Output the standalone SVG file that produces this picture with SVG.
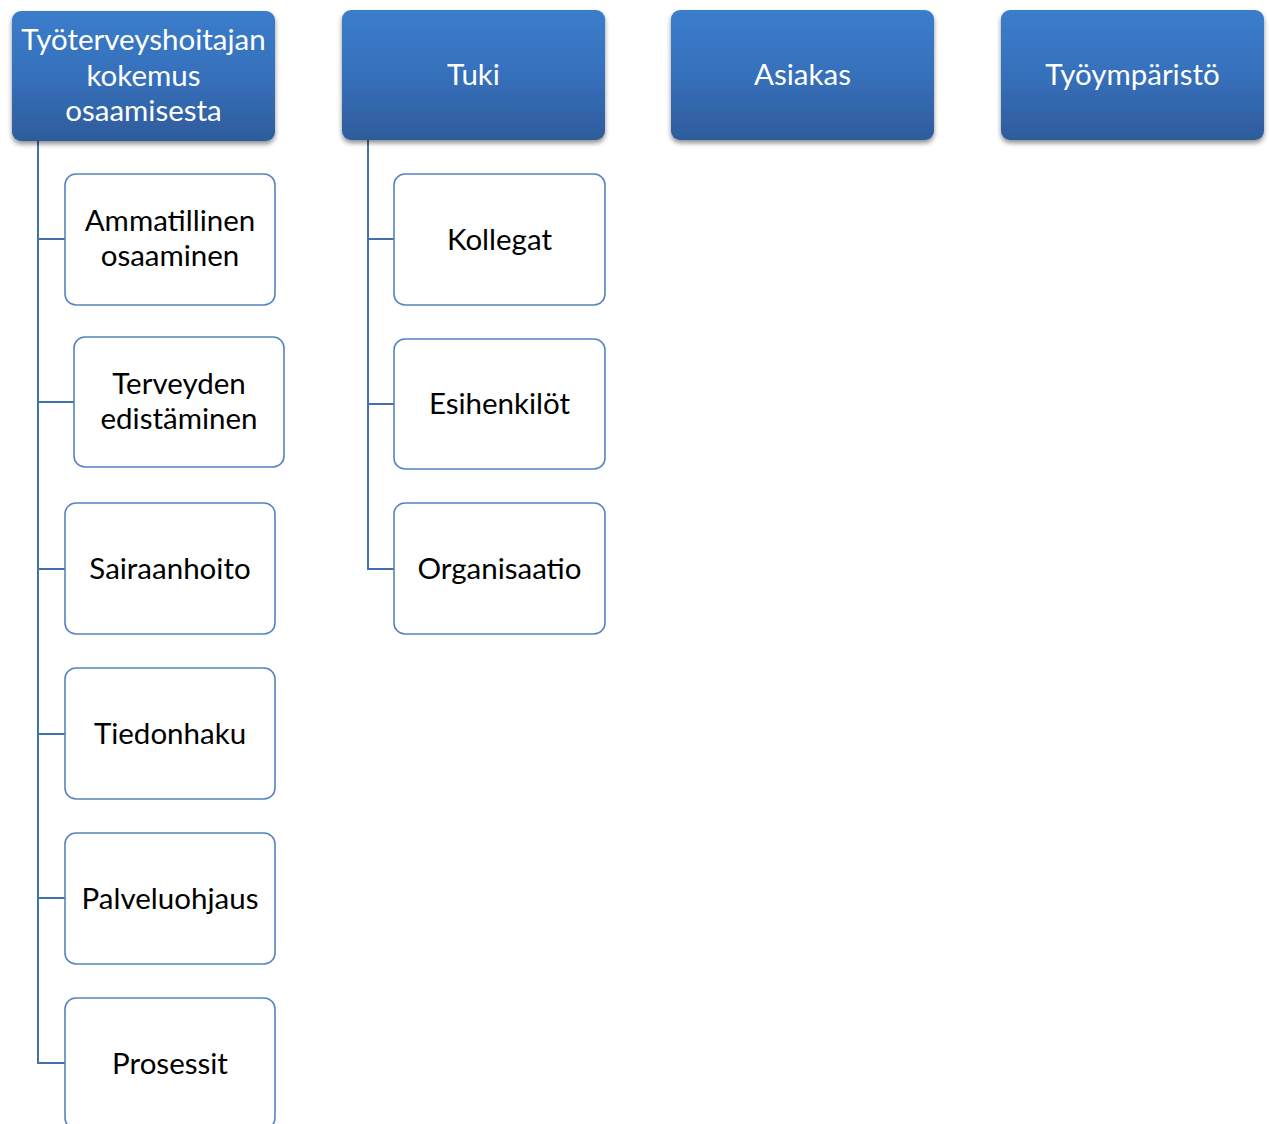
<svg xmlns="http://www.w3.org/2000/svg" width="1269" height="1124" viewBox="0 0 1269 1124">
<defs>
<linearGradient id="hg" x1="0" y1="0" x2="0" y2="1">
<stop offset="0" stop-color="#3b7dcb"/>
<stop offset="0.5" stop-color="#3670bb"/>
<stop offset="1" stop-color="#2e5c9b"/>
</linearGradient>
<filter id="sh" x="-10%" y="-10%" width="120%" height="130%">
<feGaussianBlur in="SourceAlpha" stdDeviation="2.5"/>
<feOffset dx="0" dy="3" result="b"/>
<feComponentTransfer><feFuncA type="linear" slope="0.45"/></feComponentTransfer>
<feMerge><feMergeNode/><feMergeNode in="SourceGraphic"/></feMerge>
</filter>
</defs>
<style>
.head{fill:url(#hg);filter:url(#sh);}
.ht{fill:#ffffff;font-family:Lato,"Open Sans",sans-serif;font-size:29.5px;text-anchor:middle;}
.child{fill:#ffffff;stroke:#5583c1;stroke-width:1.6;}
.ct{fill:#000000;font-family:Lato,"Open Sans",sans-serif;font-size:29.5px;text-anchor:middle;}
.conn{fill:none;stroke:#4370a8;stroke-width:2;}
</style>
<rect width="1269" height="1124" fill="#ffffff"/>
<g id="connectors">
<path class="conn" d="M38,141 V1063 H65"/>
<path class="conn" d="M38,239 H65 M38,402 H74 M38,569 H65 M38,734 H65 M38,898 H65"/>
<path class="conn" d="M368,140 V569 H394"/>
<path class="conn" d="M368,239 H394 M368,404 H394"/>
</g>
<g id="n-tyoterveys">
<rect class="head" x="12" y="11" width="263" height="130" rx="9"/>
<text class="ht" x="143.5" y="50">Työterveyshoitajan</text>
<text class="ht" x="143.5" y="86">kokemus</text>
<text class="ht" x="143.5" y="121">osaamisesta</text>
</g>
<g id="n-tuki">
<rect class="head" x="342" y="10" width="263" height="130" rx="9"/>
<text class="ht" x="473.5" y="85">Tuki</text>
</g>
<g id="n-asiakas">
<rect class="head" x="671" y="10" width="263" height="130" rx="9"/>
<text class="ht" x="802.5" y="85">Asiakas</text>
</g>
<g id="n-tyoymparisto">
<rect class="head" x="1001" y="10" width="263" height="130" rx="9"/>
<text class="ht" x="1132.5" y="85">Työympäristö</text>
</g>
<g id="n-ammatillinen">
<rect class="child" x="65" y="174" width="210" height="131" rx="11"/>
<text class="ct" x="170" y="231">Ammatillinen</text>
<text class="ct" x="170" y="266">osaaminen</text>
</g>
<g id="n-terveyden">
<rect class="child" x="74" y="337" width="210" height="130" rx="11"/>
<text class="ct" x="179" y="394">Terveyden</text>
<text class="ct" x="179" y="429">edistäminen</text>
</g>
<g id="n-sairaanhoito">
<rect class="child" x="65" y="503" width="210" height="131" rx="11"/>
<text class="ct" x="170" y="579">Sairaanhoito</text>
</g>
<g id="n-tiedonhaku">
<rect class="child" x="65" y="668" width="210" height="131" rx="11"/>
<text class="ct" x="170" y="744">Tiedonhaku</text>
</g>
<g id="n-palveluohjaus">
<rect class="child" x="65" y="833" width="210" height="131" rx="11"/>
<text class="ct" x="170" y="909">Palveluohjaus</text>
</g>
<g id="n-prosessit">
<rect class="child" x="65" y="998" width="210" height="131" rx="11"/>
<text class="ct" x="170" y="1074">Prosessit</text>
</g>
<g id="n-kollegat">
<rect class="child" x="394" y="174" width="211" height="131" rx="11"/>
<text class="ct" x="499.5" y="250">Kollegat</text>
</g>
<g id="n-esihenkilot">
<rect class="child" x="394" y="339" width="211" height="130" rx="11"/>
<text class="ct" x="499.5" y="414">Esihenkilöt</text>
</g>
<g id="n-organisaatio">
<rect class="child" x="394" y="503" width="211" height="131" rx="11"/>
<text class="ct" x="499.5" y="579">Organisaatio</text>
</g>
</svg>
